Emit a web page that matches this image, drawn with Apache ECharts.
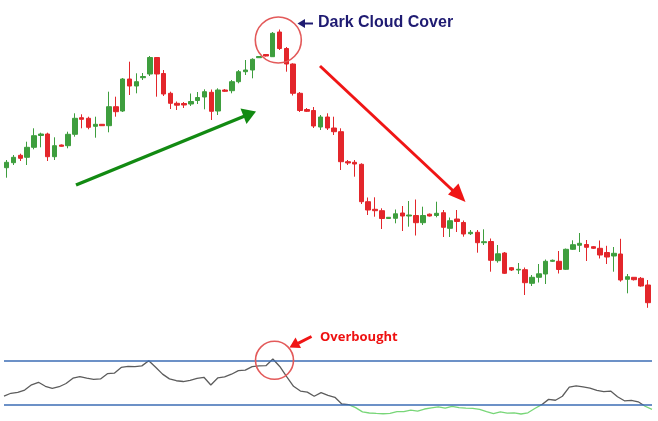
<!DOCTYPE html>
<html>
<head>
<meta charset="utf-8">
<script src="https://cdn.jsdelivr.net/npm/echarts@6/dist/echarts.min.js"></script>
<style>
html,body{margin:0;padding:0;background:#fff;}
#c{width:658px;height:421px;}
</style>
</head>
<body>
<div id="c"></div>
<script>
// ---- data ----
const categories = Array.from({length: 95}, (_, i) => 'D' + (i + 1));
// [open, close, low, high]
const opens  = [172.3,177.3,184.7,182.7,192.7,204.5,206,183.3,195,194.3,205.7,222.3,221.7,213.7,215.7,214.3,233.3,229,261,254,262.3,266,282.5,266.5,246.7,236.7,236.5,236,239.5,243,247.7,229,250,249.3,258.3,268.3,270,282.3,285.5,283.3,308,291.5,276,246.7,230.5,229.5,213,223,212,208.3,178.3,177.7,175.7,138.3,130.7,129.3,121.5,121.7,127,124,124.5,117.3,125.8,124.5,127.3,111.7,121,117.5,106.3,107.7,97.3,98.5,79.3,87,72.3,70,70.3,56.7,62.7,66,78.7,78.7,70.7,90.7,94.7,95.5,93.3,91.7,87.5,84,86,60.7,62.7,61.7,55];
const closes = [177.7,182.7,181.7,192.7,204.3,206,183.3,194.3,193.7,205.7,221.7,220.7,212.7,215.7,214.3,233.3,228.3,261,254,258.3,263.5,282.5,266,246,236.7,234.8,235,238.5,242.5,248.3,228.7,250,248.7,258.3,268.3,270,280.7,283.5,284,306.7,291.5,276,246.7,229.5,228.7,214,223,212,208.3,178.3,177,176,138.3,130,129.3,121.5,122.7,126.2,124,125,117.3,124.5,124,126.7,112.7,119.3,118.5,106,107.7,97.3,98.3,79.7,86.2,66.7,70,70.7,57.3,62.7,66.2,78.7,79.7,70.5,90.7,95.3,96.7,92.7,91.7,85,83,86.7,60,63.3,60.3,54,37.3];
const lows   = [162.3,175,179,175,190.7,192.7,179,180,193.2,191.7,203.3,211.7,210.7,202.3,214,207.7,223.3,228,245,246.7,260,264,243.3,244,231,230,232,234,236,230.7,220,225,248,246.7,256.7,265,261.7,282,283.5,283,290,268.3,244.5,228,228,212,210,210,205,170,175,163.3,136,125,123.3,111,121,116.7,109,113.3,104.5,115,123.5,122.7,103,103,108,103.3,105,87.3,95,68.3,77.3,66,69,66,45,54,57.5,56,78,66.5,70,90,88,79,91,81.5,76,68.3,58.3,46.7,59.5,53.3,32.2];
const highs  = [180,185,186.3,198.3,211.7,207.3,207.3,202.7,195.5,208.3,226.7,225.7,223.3,223.3,216,248.3,243.3,262,278.3,266.7,267,284,283,270,248.3,238.5,238,246.5,248,250.7,250.5,251.7,251,260,270,280,281.7,284,286,308,310.5,293,276.7,248,232,233,225,226.7,223.3,211.7,180,180,176.7,142.5,142.7,131.7,123,130.5,134,139,140.5,133.3,126.5,138.3,130,122.5,130,119.5,110,110,110.7,101.5,95,88,73,77,72.5,65,76,80.5,80.5,89,91.5,99.7,107,100,94,99.5,94.2,93,101.2,66,63,63,60];
// oscillator values (one per candle)
const rsi = [38.1,40.6,41.5,43.5,48.2,50.5,46.9,45.1,46.5,49.4,54.2,55.6,54.2,53.2,53.5,58.3,58.7,63.9,64.8,64.6,65.3,70.0,64.1,57.9,53.6,51.9,51.2,52.3,54.0,55.0,48.1,54.4,55.4,57.8,61.0,61.5,64.6,65.3,65.5,71.5,64.8,55.6,46.9,42.6,41.6,37.9,41.2,38.7,37.0,30.9,30.3,27.6,23.8,22.8,22.4,22.1,22.5,24.0,24.0,25.3,24.5,26.4,27.5,28.3,27.1,28.8,27.7,27.2,27.0,26.0,24.0,22.2,23.8,22.7,23.0,21.9,23.0,26.9,30.3,35.1,34.3,37.9,46.1,47.2,46.4,45.3,43.3,42.0,42.6,37.5,33.8,34.2,32.9,28.9,26.1];
const levels = [70, 30];

const ohlc = opens.map((o, i) => [o, closes[i], lows[i], highs[i]]);

const GREEN = '#3e9e3e', RED = '#e3262b';
const GRAY_LINE = '#5c5c5c', GREEN_LINE = '#78d678';

const chart = echarts.init(document.getElementById('c'), null, {renderer: 'canvas'});
chart.setOption({
  animation: false,
  backgroundColor: '#ffffff',
  grid: [
    {left: 3.3, width: 648, top: 0, height: 330},
    {left: 4, width: 648, top: 349.6, height: 66.5}
  ],
  xAxis: [
    {type: 'category', data: categories, gridIndex: 0, show: false, boundaryGap: true},
    {type: 'category', data: categories, gridIndex: 1, show: false, boundaryGap: false}
  ],
  yAxis: [
    {type: 'value', gridIndex: 0, min: 10, max: 340, show: false, splitLine: {show: false}},
    {type: 'value', gridIndex: 1, min: 20, max: 80, show: false, splitLine: {show: false}}
  ],
  series: [
    {
      type: 'candlestick', xAxisIndex: 0, yAxisIndex: 0, data: ohlc, barWidth: 5,
      itemStyle: {color: GREEN, color0: RED, borderColor: GREEN, borderColor0: RED, borderWidth: 1}
    },
    {
      type: 'line', xAxisIndex: 1, yAxisIndex: 1, data: rsi, symbol: 'none',
      lineStyle: {width: 1.3, color: GRAY_LINE}, z: 3
    },
    {
      type: 'line', xAxisIndex: 1, yAxisIndex: 1, data: [], symbol: 'none', z: 2,
      markLine: {
        silent: true, symbol: 'none', label: {show: false},
        lineStyle: {color: '#3b6db5', width: 1.5, type: 'solid'},
        data: levels.map(v => ({yAxis: v}))
      }
    }
  ],
  graphic: [
    {type: 'circle', shape: {cx: 278.3, cy: 40, r: 23}, style: {fill: 'none', stroke: '#e35a5a', lineWidth: 1.6}, z: 10},
    {type: 'line', shape: {x1: 313, y1: 23.5, x2: 302, y2: 23.5}, style: {stroke: '#1f1b72', lineWidth: 2}, z: 10},
    {type: 'polygon', shape: {points: [[297.5, 23.5], [305, 19], [305, 28]]}, style: {fill: '#1f1b72'}, z: 10},
    {type: 'text', x: 318, y: 22.5, style: {text: 'Dark Cloud Cover', fill: '#1f1b72', font: 'bold 16px "Liberation Sans", Arial, sans-serif', textVerticalAlign: 'middle'}, z: 10},
    {type: 'line', shape: {x1: 76, y1: 185, x2: 246, y2: 115.5}, style: {stroke: '#128a12', lineWidth: 3.5}, z: 10},
    {type: 'polygon', shape: {points: [[256, 111.5], [240.5, 108.5], [246.5, 124]]}, style: {fill: '#128a12'}, z: 10},
    {type: 'line', shape: {x1: 320, y1: 66, x2: 456, y2: 193.5}, style: {stroke: '#f01515', lineWidth: 3}, z: 10},
    {type: 'polygon', shape: {points: [[465.5, 202], [448, 194.5], [458.5, 183.5]]}, style: {fill: '#f01515'}, z: 10},
    {type: 'circle', shape: {cx: 274.5, cy: 360.3, r: 19}, style: {fill: 'none', stroke: '#e35a5a', lineWidth: 1.6}, z: 10},
    {type: 'line', shape: {x1: 311.5, y1: 336.5, x2: 298, y2: 343.3}, style: {stroke: '#f01515', lineWidth: 3}, z: 10},
    {type: 'polygon', shape: {points: [[289.5, 347.5], [295.5, 337.5], [301, 348]]}, style: {fill: '#f01515'}, z: 10},
    {type: 'text', x: 320, y: 337, style: {text: 'Overbought', fill: '#ee1111', font: 'bold 13px "Open Sans", Arial, sans-serif', textVerticalAlign: 'middle'}, z: 10}
  ]
});

// colour the oscillator below the lower level in green (sharp gradient stop at the level)
const yTop = chart.convertToPixel({yAxisIndex: 1}, 80);
const yBot = chart.convertToPixel({yAxisIndex: 1}, 20);
const yLvl = chart.convertToPixel({yAxisIndex: 1}, levels[1]);
const off = (yLvl - yTop) / (yBot - yTop);
chart.setOption({
  series: [{}, {
    lineStyle: {
      color: {
        type: 'linear', x: 0, y: yTop, x2: 0, y2: yBot, global: true,
        colorStops: [
          {offset: 0, color: GRAY_LINE}, {offset: off, color: GRAY_LINE},
          {offset: off, color: GREEN_LINE}, {offset: 1, color: GREEN_LINE}
        ]
      }
    }
  }]
});
</script>
</body>
</html>
